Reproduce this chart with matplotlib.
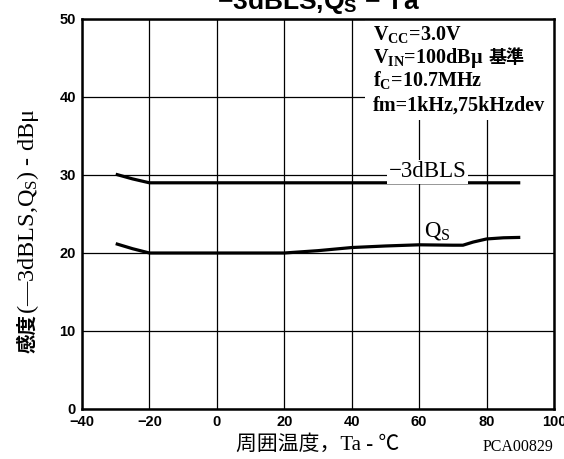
import matplotlib
matplotlib.use("Agg")
import matplotlib.pyplot as plt
from matplotlib.patches import Rectangle

# temperature sweep data (Ta in degC, sensitivity in dBu)
ta_3dbls = [-30, -25, -20, 0, 20, 40, 60, 80, 90]
ls_3db = [30.1, 29.5, 29.0, 29.0, 29.0, 29.0, 29.0, 29.0, 29.0]

ta_qs = [-30, -25, -20, 0, 20, 30, 40, 50, 60, 70, 73, 76, 80, 85, 90]
qs = [21.2, 20.55, 20.0, 20.0, 20.0, 20.3, 20.7, 20.9, 21.05, 21.0, 21.0, 21.4, 21.8, 21.95, 22.0]

x_ticks = [-40, -20, 0, 20, 40, 60, 80, 100]
x_ticklabels = ["\u221240", "\u221220", "0", "20", "40", "60", "80", "100"]
y_ticks = [0, 10, 20, 30, 40, 50]

cond_lines = ["V$_\\mathrm{CC}$=3.0V", "V$_\\mathrm{IN}$=100dB\u03bc", "f$_\\mathrm{C}$=10.7MHz", "fm=1kHz,75kHzdev"]

SERIF = ["Liberation Serif", "Noto Sans CJK JP"]
SANS = ["Liberation Sans", "DejaVu Sans"]
CJK = ["Noto Sans CJK JP"]

plt.rcParams["mathtext.fontset"] = "custom"
plt.rcParams["mathtext.rm"] = "Liberation Serif:bold"
plt.rcParams["mathtext.it"] = "Liberation Serif"
plt.rcParams["mathtext.sf"] = "Liberation Sans:bold"

fig = plt.figure(figsize=(5.64, 4.59), dpi=100)
ax = fig.add_axes([82 / 564, 50 / 459, 472 / 564, 390 / 459])

ax.plot(ta_3dbls, ls_3db, color="black", lw=2.3, solid_capstyle="butt", zorder=3)
ax.plot(ta_qs, qs, color="black", lw=2.3, solid_capstyle="butt", zorder=3)

ax.set_xlim(-40, 100)
ax.set_ylim(0, 50)
ax.set_xticks(x_ticks)
ax.set_xticklabels(x_ticklabels)
ax.set_yticks(y_ticks)
ax.tick_params(axis="x", length=0, pad=4.5)
ax.tick_params(axis="y", length=0, pad=4.5)
for lab in ax.get_xticklabels() + ax.get_yticklabels():
    lab.set_family(SANS)
    lab.set_fontweight("bold")
    lab.set_fontsize(10.5)
for lab in ax.get_yticklabels():
    lab.set_verticalalignment("center_baseline")

ax.grid(True, color="black", lw=0.9)
ax.set_axisbelow(True)
for sp in ax.spines.values():
    sp.set_linewidth(1.8)
    sp.set_zorder(6)

# curve labels
ax.text(62.5, 30.4, "\u22123dBLS", family=SERIF, fontsize=16.5,
        ha="center", va="center",
        bbox=dict(facecolor="white", edgecolor="none", pad=1.0), zorder=4)
ax.text(65.5, 22.8, r"Q$_\mathit{S}$", family=SERIF, fontsize=16.5,
        ha="center", va="center", zorder=4)

# measurement conditions, on a white patch over the grid
ax.add_patch(Rectangle(((365 - 82) / 472, (409 - 120) / 390), 1, 1, transform=ax.transAxes,
                       facecolor="white", edgecolor="none", zorder=4))
baselines = [0.946, 0.886, 0.828, 0.766]
cond_texts = []
for s, yb in zip(cond_lines, baselines):
    t = ax.text(0.6165, yb, s, transform=ax.transAxes, family=SERIF, fontweight="bold",
                fontsize=14.5, ha="left", va="baseline", zorder=5)
    cond_texts.append(t)
ax.annotate("基準", xy=(1, baselines[1]), xycoords=(cond_texts[1], "axes fraction"),
            xytext=(4, 0), textcoords="offset points", family=CJK, fontweight="bold",
            fontsize=13, ha="left", va="baseline", zorder=5)

ax.set_xlabel("周囲温度，Ta - ℃", family=SERIF, fontsize=15, labelpad=4)

# y label: CJK part and math part drawn as two pieces
t_y = fig.text(28 / 564, 1 - 353 / 459, "感度", family=CJK, fontweight="bold", fontsize=14,
               rotation=90, ha="center", va="bottom")
ax.annotate("(\u20143dBLS,Q$_\\mathit{S}$) - dB\u03bc", xy=(0.5, 1), xycoords=t_y,
            family=SERIF, fontsize=17.5, rotation=90, ha="center", va="bottom")

fig.text(553 / 564, 1 - 447 / 459, "PCA00829", family=SERIF, fontsize=11.5,
         ha="right", va="center")
fig.text(318 / 564, 1 - 9 / 459, "\u22123dBLS,Q$_\\mathsf{S}$ \u2212 Ta", family=SANS,
         fontweight="bold", fontsize=19, ha="center", va="baseline")

fig.savefig("out.png", dpi=100)
